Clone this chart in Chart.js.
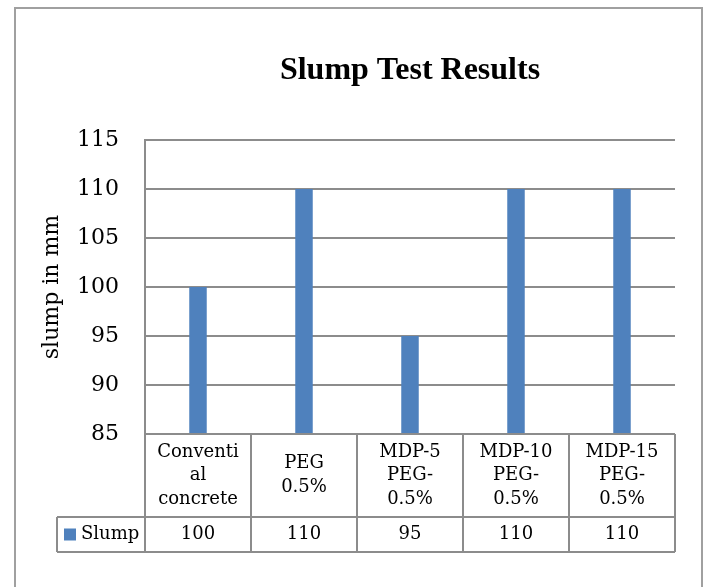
<!DOCTYPE html>
<html lang="en">
<head>
  <meta charset="UTF-8">
  <title>Slump Test Results</title>
  <style>
    body { margin: 0; background: white; }
    canvas { display: block; }
  </style>
</head>
<body>
  <canvas id="slumpChart" width="707" height="587"></canvas>

  <script src="https://cdn.jsdelivr.net/npm/chart.js"></script>
  <script>
    // data
    const chartTitle = 'Slump Test Results';
    const categories = [
      ['Conventi', 'al', 'concrete'],
      ['PEG', '0.5%'],
      ['MDP-5', 'PEG-', '0.5%'],
      ['MDP-10', 'PEG-', '0.5%'],
      ['MDP-15', 'PEG-', '0.5%']
    ];
    const slumpValues = [100, 110, 95, 110, 110];
    const yTicks = [85, 90, 95, 100, 105, 110, 115];

    const barColor = '#4f81bd';
    const lineColor = '#8c8c8c';
    const serif = '"DejaVu Serif", serif';

    // outer frame round the whole chart, and the title centred over the plot
    const framePlugin = {
      id: 'frame',
      beforeDraw(chart) {
        const ctx = chart.ctx;
        ctx.save();
        ctx.fillStyle = 'white';
        ctx.fillRect(0, 0, chart.width, chart.height);
        ctx.strokeStyle = '#a0a0a0';
        ctx.lineWidth = 2;
        ctx.strokeRect(15, 8, 687, 620);
        ctx.restore();
      },
      afterDraw(chart) {
        const ctx = chart.ctx;
        const area = chart.chartArea;
        ctx.save();
        ctx.fillStyle = '#000';
        ctx.font = 'bold 32px "Liberation Serif", serif';
        ctx.textAlign = 'center';
        ctx.textBaseline = 'alphabetic';
        ctx.fillText(chartTitle, (area.left + area.right) / 2, 79);
        ctx.restore();
      }
    };

    // Excel-style data table under the plot
    const dataTablePlugin = {
      id: 'dataTable',
      afterDraw(chart) {
        const ctx = chart.ctx;
        const x = chart.scales.x;
        const area = chart.chartArea;
        const n = chart.data.labels.length;
        const step = (x.right - x.left) / n;
        const top = area.bottom;
        const mid = top + 83;
        const bottom = mid + 35;
        const legendLeft = 57;

        ctx.save();
        ctx.strokeStyle = lineColor;
        ctx.lineWidth = 2;
        ctx.beginPath();
        ctx.moveTo(x.left, top); ctx.lineTo(x.right, top);
        ctx.moveTo(legendLeft, mid); ctx.lineTo(x.right, mid);
        ctx.moveTo(legendLeft, bottom); ctx.lineTo(x.right, bottom);
        ctx.moveTo(legendLeft, mid); ctx.lineTo(legendLeft, bottom);
        for (let i = 0; i <= n; i++) {
          const px = x.left + i * step;
          ctx.moveTo(px, top); ctx.lineTo(px, bottom);
        }
        ctx.stroke();

        ctx.fillStyle = '#000';
        ctx.font = '18px ' + serif;
        ctx.textAlign = 'center';
        ctx.textBaseline = 'middle';
        const ds = chart.data.datasets[0];
        chart.data.labels.forEach((lab, i) => {
          const cx = x.getPixelForValue(i);
          const lines = Array.isArray(lab) ? lab : [lab];
          const lh = 23.5;
          const cy = (top + mid) / 2 - (lines.length - 1) * lh / 2;
          lines.forEach((t, j) => ctx.fillText(t, cx, cy + j * lh));
          ctx.fillText(String(ds.data[i]), cx, (mid + bottom) / 2);
        });

        // legend key
        ctx.fillStyle = ds.backgroundColor;
        ctx.fillRect(64, (mid + bottom) / 2 - 6, 12, 12);
        ctx.fillStyle = '#000';
        ctx.textAlign = 'left';
        ctx.fillText(ds.label, 81, (mid + bottom) / 2);
        ctx.restore();
      }
    };

    new Chart(document.getElementById('slumpChart'), {
      type: 'bar',
      data: {
        labels: categories,
        datasets: [{
          label: 'Slump',
          data: slumpValues,
          backgroundColor: barColor,
          barPercentage: 0.165,
          categoryPercentage: 1.0
        }]
      },
      options: {
        responsive: false,
        animation: false,
        devicePixelRatio: 1,
        layout: { padding: { left: 0, right: 32, top: 140, bottom: 0 } },
        plugins: {
          legend: { display: false },
          tooltip: { enabled: false },
          title: { display: false }
        },
        scales: {
          x: {
            ticks: { display: false },
            grid: { display: false },
            border: { display: false },
            afterFit(scale) { scale.height = 153; }
          },
          y: {
            min: yTicks[0],
            max: yTicks[yTicks.length - 1],
            afterBuildTicks(scale) { scale.ticks = yTicks.map(v => ({ value: v })); },
            ticks: {
              color: '#000',
              padding: 26,
              font: { family: serif, size: 22 }
            },
            grid: { color: lineColor, lineWidth: 2, drawTicks: false },
            border: { display: true, color: lineColor, width: 2 },
            title: {
              display: true,
              text: 'slump in mm',
              color: '#000',
              font: { family: serif, size: 22 },
              padding: { top: 39, bottom: 0 }
            },
            afterFit(scale) { scale.width = 145; }
          }
        }
      },
      plugins: [framePlugin, dataTablePlugin]
    });
  </script>
</body>
</html>
